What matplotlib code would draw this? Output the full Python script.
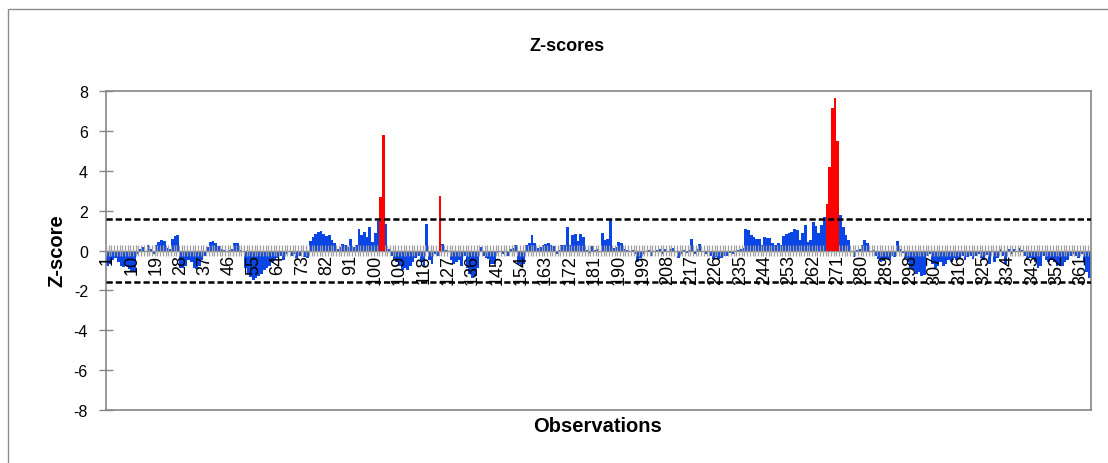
import numpy as np
import matplotlib
matplotlib.use("Agg")
import matplotlib.pyplot as plt
from matplotlib.patches import Rectangle

z_scores = [
    -0.8, -0.7, -0.5, -0.4, -0.6, -0.8, -0.85, -0.8, -0.95, -1.1,
    -1.1, -0.2, 0.1, 0.2, -0.1, 0.3, 0.1, -0.2, 0.3, 0.45,
    0.55, 0.5, 0.15, 0.1, 0.6, 0.75, 0.8, -0.9, -0.9, -0.8,
    -0.5, -0.6, -0.9, -0.95, -0.8, -0.5, -0.3, 0.2, 0.45, 0.5,
    0.4, 0.25, 0.1, 0.05, -0.1, 0.05, 0.1, 0.4, 0.4, 0.05,
    -0.1, -0.9, -1.2, -1.35, -1.5, -1.4, -1.3, -1.2, -1.0, -0.9,
    -0.8, -0.6, -0.5, -0.4, -0.3, -0.5, -0.2, -0.1, -0.3, -0.2,
    -0.4, -0.3, -0.1, -0.35, -0.4, 0.5, 0.7, 0.85, 0.95, 1.0,
    0.85, 0.75, 0.8, 0.55, 0.4, 0.1, 0.2, 0.35, 0.3, 0.2,
    0.6, 0.2, 0.3, 1.1, 0.8, 0.95, 0.7, 1.2, 0.45, 0.9,
    1.5, 2.7, 5.8, 1.35, 0.1, -0.3, -0.5, -0.6, -0.8, -1.0,
    -0.9, -1.0, -0.8, -0.6, -0.4, -0.3, -0.6, -0.8, 1.35, -0.5,
    -0.7, -0.2, -0.3, 2.75, 0.35, 0.05, -0.1, -0.5, -0.7, -0.6,
    -0.5, -0.8, -0.3, -0.9, -1.2, -1.4, -1.3, -0.9, 0.2, -0.3,
    -0.4, -0.45, -0.7, -0.7, -0.15, -0.1, -0.2, -0.1, -0.3, 0.1,
    0.15, 0.3, -0.7, -0.8, -0.7, 0.3, 0.4, 0.78, 0.4, 0.15,
    0.2, 0.3, 0.35, 0.4, 0.3, 0.25, -0.2, 0.05, 0.3, 0.3,
    1.2, 0.3, 0.8, 0.85, 0.5, 0.85, 0.7, 0.05, -0.15, 0.25,
    0.05, 0.1, -0.1, 0.9, 0.55, 0.6, 1.55, 0.15, 0.2, 0.45,
    0.4, 0.1, 0.05, -0.1, 0.05, -0.2, -0.6, -0.4, -0.2, -0.1,
    0.05, -0.3, -0.1, 0.05, 0.1, -0.2, 0.1, -0.1, 0.1, 0.15,
    -0.1, -0.4, -0.2, 0.05, -0.15, 0.05, 0.58, -0.2, 0.1, 0.35,
    -0.1, -0.2, -0.1, -0.3, -0.45, -0.35, -0.45, -0.4, -0.3, -0.3,
    -0.15, -0.2, -0.1, 0.05, 0.1, 0.15, 1.07, 1.05, 0.8, 0.7,
    0.6, 0.6, 0.3, 0.7, 0.65, 0.65, 0.37, 0.3, 0.37, 0.3,
    0.75, 0.83, 0.87, 0.95, 1.07, 1.05, 0.55, 0.87, 1.27, 0.45,
    0.55, 1.45, 1.25, 0.87, 1.3, 1.7, 2.35, 4.2, 7.15, 7.65,
    5.5, 1.8, 1.2, 0.8, 0.55, -0.1, -0.35, 0.05, 0.1, 0.3,
    0.55, 0.4, -0.05, 0.05, -0.3, -0.45, -0.6, -0.55, -0.4, -0.5,
    -0.3, -0.35, 0.5, 0.1, -0.15, -0.4, -0.6, -0.9, -1.0, -1.2,
    -1.1, -1.3, -1.25, -0.3, -0.2, -0.7, -0.9, -0.8, -0.6, -0.8,
    -0.7, -0.5, -0.6, -0.4, -0.5, -0.4, -0.3, -0.5, -0.35, -0.3,
    -0.45, -0.3, -0.2, -0.4, -0.5, -0.25, -0.7, -0.1, -0.6, -0.4,
    0.1, -0.3, -0.7, 0.1, -0.2, 0.1, -0.1, 0.15, 0.05, -0.3,
    -0.5, -0.4, -0.4, -0.6, -0.9, -0.8, -0.3, -0.5, -0.6, -0.5,
    -0.6, -0.8, -0.7, -0.8, -0.6, -0.5, -0.3, -0.2, -0.3, -0.4,
    -0.2, -0.6, -1.1, -1.4,
]
# observations drawn in red
flagged = [102, 103, 124, 267, 268, 269, 270, 271]
threshold = 1.58
y_ticks = [-8, -6, -4, -2, 0, 2, 4, 6, 8]

n = len(z_scores)
obs = np.arange(1, n + 1)
z = np.array(z_scores)
is_red = np.isin(obs, flagged)

W, H = 1108, 464
fig = plt.figure(figsize=(W / 100, H / 100), dpi=100)
plt.rcParams['font.family'] = ['Liberation Sans', 'DejaVu Sans']

# chart area frame (runs off the right/bottom of the picture)
fig.patches.append(Rectangle((8 / W, -0.1), 1.2, 1.1 - 10 / H, transform=fig.transFigure,
                             fill=False, edgecolor='#8c8c8c', lw=1.0))

left, right, top, bottom = 106, 1090.7, 92.3, 410.7
ax = fig.add_axes([left / W, 1 - bottom / H, (right - left) / W, (bottom - top) / H])

grey = '#868686'
ax.bar(obs[~is_red], z[~is_red], width=1.0, color='#0A46E6', zorder=2)
ax.bar(obs[is_red], z[is_red], width=1.0, color='#FF0000', zorder=4)

# category axis crossing at zero with cross tick marks between categories
ax.axhline(0, color=grey, lw=1.0, zorder=3)
ax.vlines(np.arange(0.5, n + 1), -0.3, 0.3, color='#a0a0a0', lw=0.9, zorder=3)

for y in (threshold, -threshold):
    ax.axhline(y, color='black', lw=1.8, ls=(0, (2.5, 1.2)), zorder=5)

for i in range(1, n + 1, 9):
    ax.text(i, -0.18, str(i), rotation=90, ha='center', va='top',
            fontsize=13, zorder=6)

ax.set_xlim(0.5, n + 0.5)
ax.set_ylim(-8, 8)
ax.set_xticks([])
ax.set_yticks(y_ticks)
ax.set_yticklabels([str(v) for v in y_ticks], fontsize=11.5)
ax.tick_params(axis='y', direction='inout', length=10, width=1.0, color=grey, pad=8)
for s in ax.spines.values():
    s.set_color(grey)
    s.set_linewidth(1.2)

fig.text(567 / W, 1 - 47 / H, 'Z-scores', ha='center', va='center',
         fontsize=13, fontweight='bold')
fig.text(598 / W, 1 - 427 / H, 'Observations', ha='center', va='center',
         fontsize=14.5, fontweight='bold')
fig.text(57 / W, 1 - 251 / H, 'Z-score', ha='center', va='center', rotation=90,
         fontsize=14.5, fontweight='bold')

fig.savefig('out.png', dpi=100)
